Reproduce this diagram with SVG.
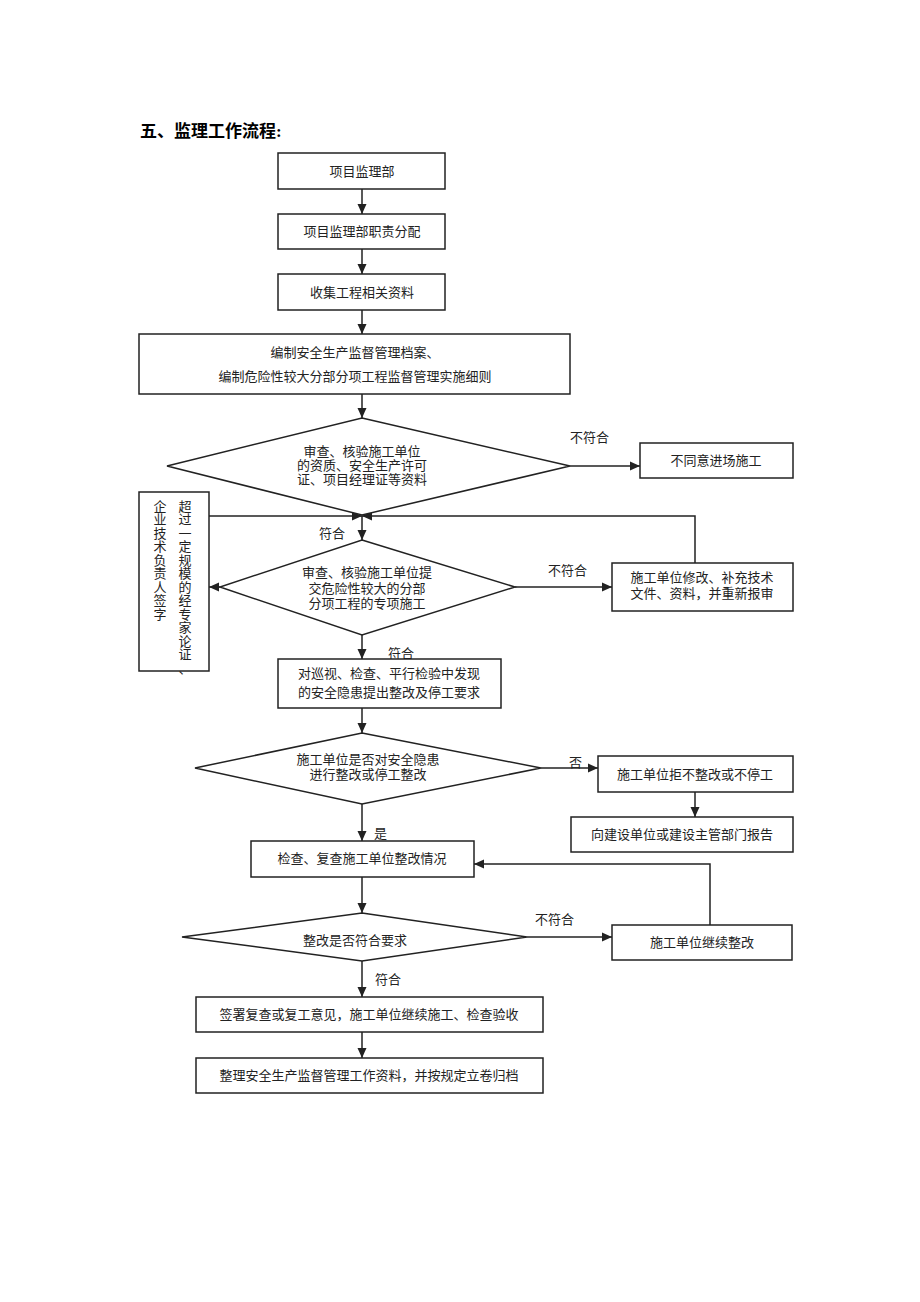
<svg xmlns="http://www.w3.org/2000/svg" width="920" height="1302" viewBox="0 0 920 1302">
<style>
.b{fill:#fff;stroke:#222;stroke-width:1.5}
.l{fill:none;stroke:#222;stroke-width:1.5}
.t{font-family:"Liberation Serif","Noto Sans CJK SC",serif;font-size:13px;fill:#222;text-anchor:middle}
.lab{font-family:"Liberation Serif","Noto Sans CJK SC",serif;font-size:13px;fill:#222}
.title{font-family:"Liberation Serif","Noto Sans CJK SC",serif;font-size:17px;font-weight:bold;fill:#000}
</style>
<defs>
<marker id="ar" markerUnits="userSpaceOnUse" markerWidth="10" markerHeight="10" viewBox="0 0 10 10" refX="10" refY="5" orient="auto">
<path d="M0,0.5 L10,5 L0,9.5 Z" fill="#222"/>
</marker>
</defs>
<rect width="920" height="1302" fill="#fff"/>
<text class="title" x="140" y="137">五、监理工作流程:</text>

<g id="connectors">
<line class="l" x1="362" y1="189" x2="362" y2="214" marker-end="url(#ar)"/>
<line class="l" x1="362" y1="249" x2="362" y2="274" marker-end="url(#ar)"/>
<line class="l" x1="362" y1="310" x2="362" y2="334" marker-end="url(#ar)"/>
<line class="l" x1="362" y1="394" x2="362" y2="418" marker-end="url(#ar)"/>
<line class="l" x1="570" y1="466" x2="640" y2="466" marker-end="url(#ar)"/>
<line class="l" x1="209" y1="516" x2="362" y2="516" marker-end="url(#ar)"/>
<polyline class="l" points="695,563 695,516 362,516" marker-end="url(#ar)"/>
<line class="l" x1="362" y1="516" x2="362" y2="540" marker-end="url(#ar)"/>
<line class="l" x1="220" y1="587" x2="209" y2="587" marker-end="url(#ar)"/>
<line class="l" x1="515" y1="587" x2="612" y2="587" marker-end="url(#ar)"/>
<line class="l" x1="362" y1="635" x2="362" y2="659" marker-end="url(#ar)"/>
<line class="l" x1="362" y1="708" x2="362" y2="733" marker-end="url(#ar)"/>
<line class="l" x1="541" y1="768" x2="598" y2="768" marker-end="url(#ar)"/>
<line class="l" x1="695" y1="792" x2="695" y2="817" marker-end="url(#ar)"/>
<line class="l" x1="362" y1="804" x2="362" y2="841" marker-end="url(#ar)"/>
<polyline class="l" points="710,925 710,864 474,864" marker-end="url(#ar)"/>
<line class="l" x1="362" y1="877" x2="362" y2="913" marker-end="url(#ar)"/>
<line class="l" x1="527" y1="937" x2="612" y2="937" marker-end="url(#ar)"/>
<line class="l" x1="362" y1="961" x2="362" y2="997" marker-end="url(#ar)"/>
<line class="l" x1="362" y1="1032" x2="362" y2="1058" marker-end="url(#ar)"/>
<text class="lab" x="570" y="442">不符合</text>
<text class="lab" x="319" y="538">符合</text>
<text class="lab" x="548" y="575">不符合</text>
<text class="lab" x="388" y="658">符合</text>
<text class="lab" x="569" y="767">否</text>
<text class="lab" x="374" y="838">是</text>
<text class="lab" x="535" y="924">不符合</text>
<text class="lab" x="375" y="984">符合</text>
</g>

<g id="n1"><rect class="b" x="278" y="153" width="167" height="36"/><text class="t" x="362" y="176">项目监理部</text></g>
<g id="n2"><rect class="b" x="278" y="214" width="167" height="35"/><text class="t" x="362" y="236">项目监理部职责分配</text></g>
<g id="n3"><rect class="b" x="278" y="274" width="167" height="36"/><text class="t" x="362" y="297">收集工程相关资料</text></g>
<g id="n4"><rect class="b" x="139" y="334" width="431" height="60"/><text class="t" x="355" y="357">编制安全生产监督管理档案、</text><text class="t" x="355" y="381">编制危险性较大分部分项工程监督管理实施细则</text></g>
<g id="d1"><polygon class="b" points="362,418 570,466 362,515 167,466"/><text class="t" x="362" y="456">审查、核验施工单位</text><text class="t" x="362" y="470">的资质、安全生产许可</text><text class="t" x="362" y="484">证、项目经理证等资料</text></g>
<g id="n5"><rect class="b" x="640" y="443" width="153" height="35"/><text class="t" x="716" y="465">不同意进场施工</text></g>
<g id="n6"><rect class="b" x="139" y="492" width="70" height="179"/>
<text class="t" x="160 160 160 160 160 160 160 160 160" y="510.5 524 537.5 551 564.5 578 591.5 605 618.5">企业技术负责人签字</text>
<text class="t" x="185 185 185 185 185 185 185 185 185 185 185 185 185" y="510.5 524 537.5 551 564.5 578 591.5 605 618.5 632 645.5 659 672.5">超过一定规模的经专家论证、</text>
</g>
<g id="d2"><polygon class="b" points="362,540 515,587 362,635 220,587"/><text class="t" x="367" y="577">审查、核验施工单位提</text><text class="t" x="367" y="593">交危险性较大的分部</text><text class="t" x="367" y="608">分项工程的专项施工</text></g>
<g id="n7"><rect class="b" x="612" y="563" width="181" height="48"/><text class="t" x="702" y="582">施工单位修改、补充技术</text><text class="t" x="702" y="598">文件、资料，并重新报审</text></g>
<g id="n8"><rect class="b" x="278" y="659" width="223" height="49"/><text class="t" x="389" y="678">对巡视、检查、平行检验中发现</text><text class="t" x="389" y="697">的安全隐患提出整改及停工要求</text></g>
<g id="d3"><polygon class="b" points="362,733 541,768 362,804 195,768"/><text class="t" x="368" y="764">施工单位是否对安全隐患</text><text class="t" x="368" y="779">进行整改或停工整改</text></g>
<g id="n9"><rect class="b" x="598" y="756" width="195" height="36"/><text class="t" x="695" y="779">施工单位拒不整改或不停工</text></g>
<g id="n10"><rect class="b" x="571" y="817" width="222" height="35"/><text class="t" x="682" y="839">向建设单位或建设主管部门报告</text></g>
<g id="n11"><rect class="b" x="251" y="841" width="223" height="36"/><text class="t" x="362" y="863">检查、复查施工单位整改情况</text></g>
<g id="d4"><polygon class="b" points="362,913 527,937 362,961 182,937"/><text class="t" x="355" y="945">整改是否符合要求</text></g>
<g id="n12"><rect class="b" x="612" y="925" width="180" height="35"/><text class="t" x="702" y="947">施工单位继续整改</text></g>
<g id="n13"><rect class="b" x="196" y="997" width="347" height="35"/><text class="t" x="369" y="1019">签署复查或复工意见，施工单位继续施工、检查验收</text></g>
<g id="n14"><rect class="b" x="196" y="1058" width="347" height="35"/><text class="t" x="369" y="1080">整理安全生产监督管理工作资料，并按规定立卷归档</text></g>
</svg>
